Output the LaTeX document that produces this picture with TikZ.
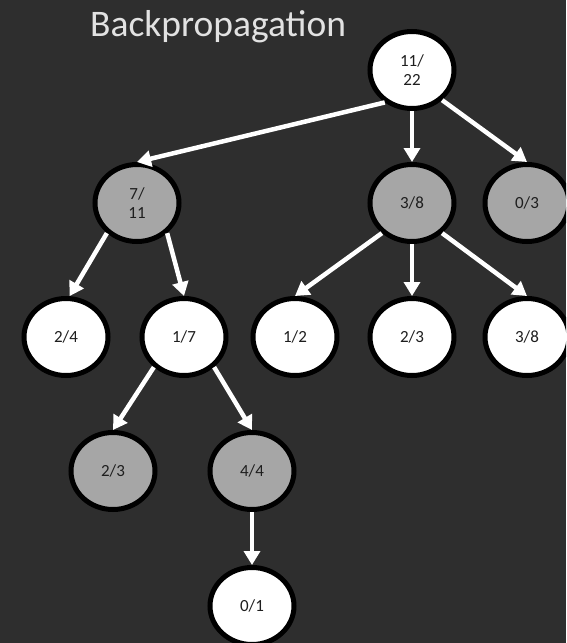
\documentclass[tikz,border=0pt]{standalone}
\usepackage{fontspec}
\setmainfont{Carlito}
\usetikzlibrary{positioning,arrows.meta,shapes.geometric}

\definecolor{slide}{HTML}{2E2E2E}
\definecolor{nodegray}{HTML}{A6A6A6}
\definecolor{txtgray}{HTML}{1E1E1E}
\definecolor{titlegray}{HTML}{E2E2E2}

\tikzset{
   stat/.style={ellipse, draw=black, line width=5pt, fill=white,
      minimum width=84pt, minimum height=77pt, inner sep=0pt,
      font=\fontsize{17}{18.5}\selectfont, text=txtgray, align=center},
   statgray/.style={stat, fill=nodegray},
   backprop/.style={draw=white, line width=4.5pt,
      -{Triangle[width=16pt,length=14pt]}}
}

\begin{document}
\begin{tikzpicture}[node distance=134pt, on grid]
   \fill[slide] (0pt,0pt) rectangle (566pt,-643pt);
   \useasboundingbox (0pt,0pt) rectangle (566pt,-643pt);
   \clip (0pt,0pt) rectangle (566pt,-643pt);

   \node[anchor=base west, inner sep=0pt, text=titlegray,
      font=\fontsize{37.5}{44}\selectfont] (title) at (90pt,-36pt) {Backpropagation};

   % root
   \node[stat] (n0) at (412pt,-70pt) {11/\\22};

   % first level
   \node[statgray, below left=133pt and 275pt of n0]  (n1) {7/\\11};
   \node[statgray, below=133pt of n0]                 (n2) {3/8};
   \node[statgray, below right=133pt and 115pt of n0] (n3) {0/3};

   % second level
   \node[stat, below left=134pt and 71pt of n1]   (n11) {2/4};
   \node[stat, below right=134pt and 47pt of n1]  (n12) {1/7};
   \node[stat, below left=134pt and 117pt of n2]  (n21) {1/2};
   \node[stat, below=of n2]                       (n22) {2/3};
   \node[stat, below=of n3]                       (n31) {3/8};

   % third level
   \node[statgray, below left=134pt and 71pt of n12]  (n121) {2/3};
   \node[statgray, below right=134pt and 68pt of n12] (n122) {4/4};

   % playout leaf
   \node[stat, below=135pt of n122] (n1221) {0/1};

   \draw[backprop] (n0.-130) -- (n1.north);
   \draw[backprop] (n0.south) -- (n2.north);
   \draw[backprop] (n0.-45)  -- (n3.north);

   \draw[backprop] (n1.-135) -- (n11.85);
   \draw[backprop] (n1.-45)  -- (n12.north);
   \draw[backprop] (n2.-135) -- (n21.north);
   \draw[backprop] (n2.south) -- (n22.north);
   \draw[backprop] (n2.-45)  -- (n31.north);

   \draw[backprop] (n12.-135) -- (n121.north);
   \draw[backprop] (n12.-45)  -- (n122.north);
   \draw[backprop] (n122.south) -- (n1221.north);
\end{tikzpicture}
\end{document}
